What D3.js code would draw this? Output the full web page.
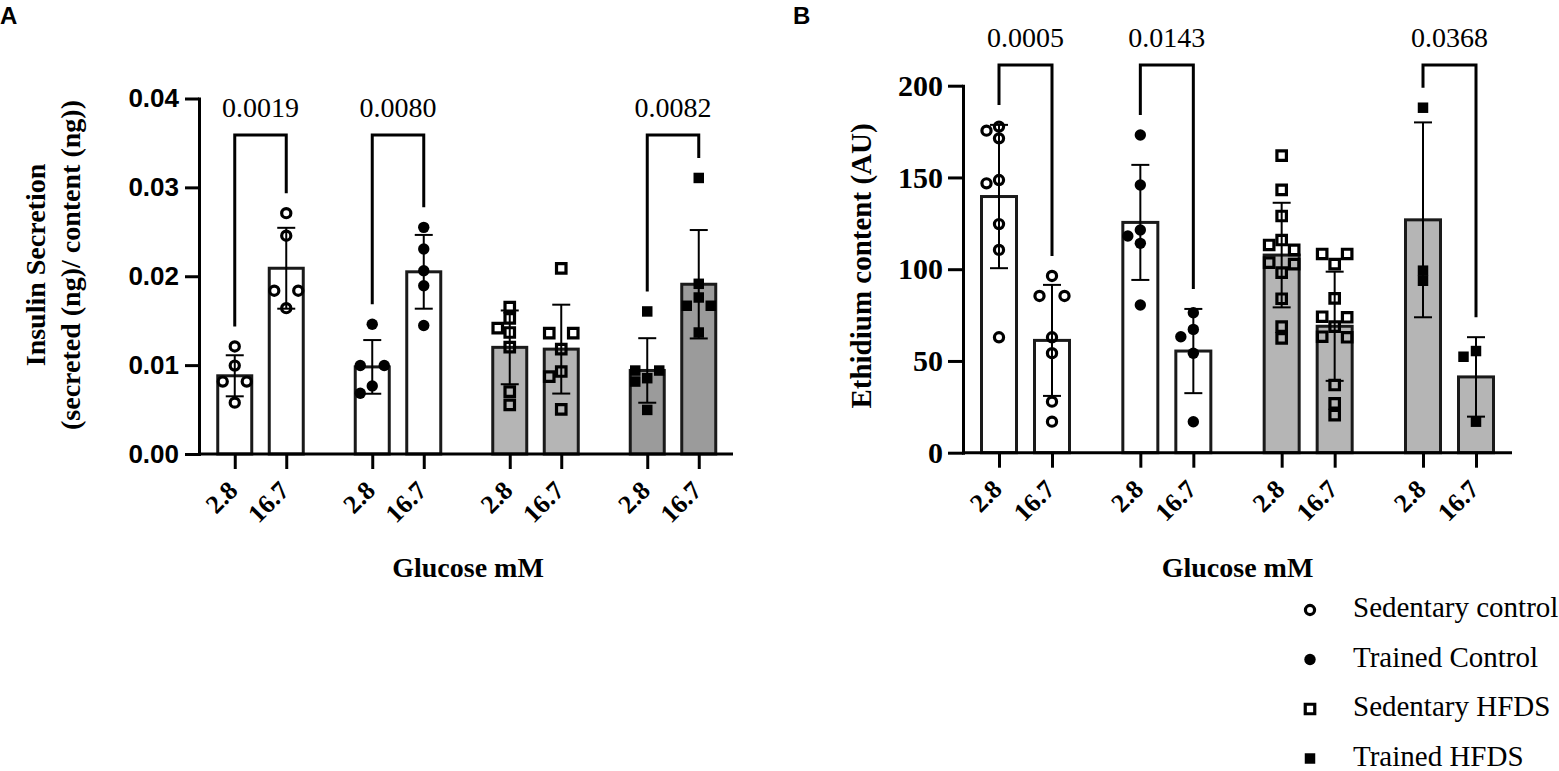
<!DOCTYPE html>
<html>
<head>
<meta charset="utf-8">
<script src="https://cdn.jsdelivr.net/npm/d3@7"></script>
<style>
  body { margin: 0; background: #fff; }
  svg { display: block; }
</style>
</head>
<body>
<svg id="chart" width="1559" height="771"></svg>
<script>
// groups and glucose doses
const groups = ['Sedentary control', 'Trained Control', 'Sedentary HFDS', 'Trained HFDS']
const glucose = ['2.8', '16.7']

// panel A: insulin secretion, per group -> [2.8 mM, 16.7 mM]
const insulinPoints = [
  [[0.0121, 0.00995, 0.00815, 0.00815, 0.00578], [0.0271, 0.02456, 0.01837, 0.01837, 0.01641]],
  [[0.0146, 0.00995, 0.00995, 0.00766, 0.00684], [0.0255, 0.02306, 0.02062, 0.01893, 0.01446]],
  [[0.01653, 0.01525, 0.01416, 0.01367, 0.01202, 0.00702, 0.00552], [0.02088, 0.0136, 0.0136, 0.0118, 0.00928, 0.00871, 0.00503]],
  [[0.01604, 0.00939, 0.00939, 0.00853, 0.00815, 0.00496], [0.03106, 0.01915, 0.01761, 0.01668, 0.01668, 0.01367]]
]
const insulinMeans = [[0.0088, 0.0209], [0.0098, 0.0205], [0.0120, 0.0118], [0.0094, 0.0191]]
const insulinSds = [[0.00231, 0.00455], [0.00302, 0.00415], [0.00415, 0.0050], [0.00363, 0.0061]]
const insulinPValues = ['0.0019', '0.0080', null, '0.0082']
const insulinTicks = [0, 0.01, 0.02, 0.03, 0.04]

// panel B: ethidium content
const ethidiumPoints = [
  [[177.7, 175.5, 171.3, 148.6, 146.8, 124.6, 110.5, 62.9], [96.3, 85.4, 85.4, 62.9, 54.2, 27.8, 16.9]],
  [[173.1, 145.9, 121.4, 118.1, 114.1, 80.5], [76.3, 67.2, 63.2, 54.2, 16.9]],
  [[161.9, 143.2, 129.0, 115.9, 113.2, 110.5, 103.6, 102.8, 98.1, 83.9, 68.7, 62.3],
   [108.3, 108.3, 102.8, 84.1, 74.1, 73.8, 68.7, 63.2, 62.9, 36.9, 26.9, 20.5]],
  [[188.0, 99.2, 93.7], [55.4, 52.3, 16.9]]
]
const ethidiumMeans = [[139.6, 61.2], [125.5, 55.4], [107.7, 68.9], [126.9, 41.3]]
const ethidiumSds = [[39.05, 30.25], [31.35, 22.95], [28.5, 29.75], [53.1, 21.65]]
const ethidiumPValues = ['0.0005', '0.0143', null, '0.0368']
const ethidiumTicks = [0, 50, 100, 150, 200]

const SERIF = '"Liberation Serif", "Times New Roman", Times, serif'
const SANS = '"Liberation Sans", Arial, Helvetica, sans-serif'

const markerType = [d3.symbolCircle, d3.symbolCircle, d3.symbolSquare, d3.symbolSquare]
const markerFilled = [false, true, false, true]
const markerSize = [66, 102, 90, 110]

const svg = d3.select('#chart')
svg.append('rect').attr('width', 1559).attr('height', 771).attr('fill', '#fff')

// spread points sideways so they don't overlap (greedy, top to bottom)
function swarm(values, y, step, dist) {
  const pts = values.map(v => ({ v: v, py: y(v), dx: 0 })).sort((a, b) => a.py - b.py)
  const placed = []
  let i = 0
  while (i < pts.length) {
    let j = i + 1
    while (j < pts.length && Math.abs(pts[j].py - pts[i].py) < 1.5) j++
    const n = j - i
    if (n > 1) {
      const sp = n === 2 ? 2 * step : step
      for (let k = 0; k < n; k++) {
        pts[i + k].dx = (k - (n - 1) / 2) * sp
        placed.push(pts[i + k])
      }
    }
    else {
      const p = pts[i]
      for (const c of [0, -step, step, -2 * step, 2 * step]) {
        const hit = placed.some(q => Math.hypot(q.dx - c, q.py - p.py) < dist)
        if (!hit) { p.dx = c; break }
      }
      placed.push(p)
    }
    i = j
  }
  return pts
}

function renderPanel(o) {
  const g = svg.append('g')

  const y = d3.scaleLinear().domain([0, o.ticks[o.ticks.length - 1]]).range(o.yRange)
  const xGroup = d3.scalePoint().domain(d3.range(groups.length)).range(o.groupRange)
  const xDose = d3.scalePoint().domain(d3.range(glucose.length)).range([-o.doseHalf, o.doseHalf])

  const records = []
  groups.forEach((name, gi) => {
    glucose.forEach((dose, di) => {
      records.push({
        key: `${gi}-${di}`, g: gi, d: di,
        mean: o.means[gi][di], sd: o.sds[gi][di], points: o.points[gi][di],
        x: xGroup(gi) + xDose(di)
      })
    })
  })
  const xBar = d3.scaleOrdinal().domain(records.map(r => r.key)).range(records.map(r => r.x))

  // bars
  g.selectAll('rect.bar')
    .data(records)
    .join('rect')
      .attr('class', 'bar')
      .attr('x', d => xBar(d.key) - o.barWidth / 2)
      .attr('width', o.barWidth)
      .attr('y', d => y(d.mean))
      .attr('height', d => y(0) - y(d.mean))
      .attr('fill', d => o.fills[d.g])
      .attr('stroke', '#1a1a1a')
      .attr('stroke-width', 3)

  // points
  records.forEach(r => {
    const pts = swarm(r.points, y, o.step, 10)
    g.selectAll(null)
      .data(pts)
      .join('path')
        .attr('transform', p => `translate(${xBar(r.key) + p.dx},${p.py})`)
        .attr('d', d3.symbol().type(markerType[r.g]).size(markerSize[r.g]))
        .attr('fill', markerFilled[r.g] ? '#000' : 'none')
        .attr('stroke', markerFilled[r.g] ? 'none' : '#000')
        .attr('stroke-width', 3.2)
  })

  // error bars (mean ± SD)
  const err = g.selectAll('g.err')
    .data(records)
    .join('g')
      .attr('class', 'err')
      .attr('stroke', '#000')
      .attr('stroke-width', 2)
  err.append('line')
    .attr('x1', d => xBar(d.key)).attr('x2', d => xBar(d.key))
    .attr('y1', d => y(d.mean - d.sd)).attr('y2', d => y(d.mean + d.sd))
  err.append('line')
    .attr('x1', d => xBar(d.key) - 9).attr('x2', d => xBar(d.key) + 9)
    .attr('y1', d => y(d.mean + d.sd)).attr('y2', d => y(d.mean + d.sd))
  err.append('line')
    .attr('x1', d => xBar(d.key) - 9).attr('x2', d => xBar(d.key) + 9)
    .attr('y1', d => y(d.mean - d.sd)).attr('y2', d => y(d.mean - d.sd))

  // y axis
  const yAxis = g.append('g')
    .attr('transform', `translate(${o.left},0)`)
    .call(d3.axisLeft(y).tickValues(o.ticks).tickFormat(d3.format(o.format))
      .tickSize(o.tickLen).tickSizeOuter(0).tickPadding(o.tickPad))
  yAxis.select('.domain').attr('stroke-width', 3).attr('stroke-linecap', 'square')
  yAxis.selectAll('.tick line').attr('stroke-width', 3)
  yAxis.selectAll('.tick text')
    .attr('font-family', o.tickFont).attr('font-weight', 'bold')
    .attr('font-size', o.tickFontSize).attr('fill', '#000')

  // x axis
  const xAxis = g.append('g')
    .attr('transform', `translate(0,${y(0)})`)
    .call(d3.axisBottom(xBar).tickSize(15).tickFormat(k => glucose[+k.split('-')[1]]))
  xAxis.select('.domain').remove()
  xAxis.append('line')
    .attr('x1', o.left).attr('x2', o.right)
    .attr('stroke', '#000').attr('stroke-width', 3)
  xAxis.selectAll('.tick line').attr('stroke-width', 3)
  xAxis.selectAll('.tick text')
    .attr('x', 0).attr('y', 0).attr('dy', 0)
    .attr('transform', 'translate(4,38) rotate(-45)')
    .attr('text-anchor', 'end')
    .attr('font-family', SERIF).attr('font-weight', 'bold')
    .attr('font-size', 26).attr('fill', '#000')

  // comparison brackets
  o.pValues.forEach((p, gi) => {
    if (!p) return
    const legs = [0, 1].map(di => {
      const top = Math.min(y(d3.max(o.points[gi][di])), y(o.means[gi][di] + o.sds[gi][di]))
      return { x: xGroup(gi) + xDose(di), y: top - 20 }
    })
    g.append('path')
      .attr('d', `M${legs[0].x},${legs[0].y}V${o.bracketY}H${legs[1].x}V${legs[1].y}`)
      .attr('fill', 'none').attr('stroke', '#000').attr('stroke-width', 3)
    g.append('text')
      .attr('x', (legs[0].x + legs[1].x) / 2)
      .attr('y', o.bracketY - 18)
      .attr('text-anchor', 'middle')
      .attr('font-family', SERIF).attr('font-size', 28)
      .text(p)
  })

  // titles
  o.yTitle.forEach((line, i) => {
    g.append('text')
      .attr('transform', `translate(${o.yTitleX[i]},${o.yTitleY}) rotate(-90)`)
      .attr('text-anchor', 'middle')
      .attr('font-family', SERIF).attr('font-weight', 'bold')
      .attr('font-size', o.yTitleSize)
      .text(line)
  })
  g.append('text')
    .attr('x', o.xTitleX).attr('y', 577)
    .attr('text-anchor', 'middle')
    .attr('font-family', SERIF).attr('font-weight', 'bold').attr('font-size', 28)
    .text('Glucose mM')

  g.append('text')
    .attr('x', o.labelX).attr('y', 24)
    .attr('font-family', SANS).attr('font-weight', 'bold').attr('font-size', 24)
    .text(o.label)
}

renderPanel({
  label: 'A', labelX: 0,
  points: insulinPoints, means: insulinMeans, sds: insulinSds, pValues: insulinPValues,
  ticks: insulinTicks, format: '.2f',
  left: 199, right: 733, yRange: [454, 98.5],
  groupRange: [260.5, 673], doseHalf: 25.75, barWidth: 34, step: 12,
  fills: ['#fff', '#fff', '#b5b5b5', '#9b9b9b'],
  tickLen: 14, tickPad: 6, tickFont: SANS, tickFontSize: 26,
  bracketY: 135,
  yTitle: ['Insulin Secretion', '(secreted (ng)/ content (ng))'],
  yTitleX: [45, 80], yTitleY: 265, yTitleSize: 28,
  xTitleX: 468
})

renderPanel({
  label: 'B', labelX: 793,
  points: ethidiumPoints, means: ethidiumMeans, sds: ethidiumSds, pValues: ethidiumPValues,
  ticks: ethidiumTicks, format: 'd',
  left: 963, right: 1512, yRange: [452.7, 85.7],
  groupRange: [1025.5, 1449.5], doseHalf: 26.5, barWidth: 35, step: 12.5,
  fills: ['#fff', '#fff', '#b5b5b5', '#b5b5b5'],
  tickLen: 15, tickPad: 5, tickFont: SERIF, tickFontSize: 30,
  bracketY: 65,
  yTitle: ['Ethidium content (AU)'],
  yTitleX: [871], yTitleY: 266, yTitleSize: 29,
  xTitleX: 1237.5
})

// legend
const legend = svg.append('g')
groups.forEach((name, i) => {
  const base = 617 + i * 49.5
  legend.append('path')
    .attr('transform', `translate(1310,${base - 7})`)
    .attr('d', d3.symbol().type(markerType[i]).size(markerSize[i]))
    .attr('fill', markerFilled[i] ? '#000' : 'none')
    .attr('stroke', markerFilled[i] ? 'none' : '#000')
    .attr('stroke-width', 3.2)
  legend.append('text')
    .attr('x', 1353).attr('y', base)
    .attr('font-family', SERIF).attr('font-size', 29)
    .text(name)
})
</script>
</body>
</html>
